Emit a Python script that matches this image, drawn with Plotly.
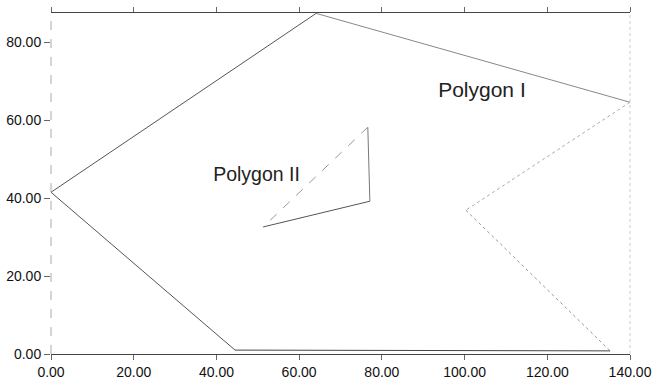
import plotly.graph_objects as go

# Polygon I vertices (closed)
poly1_x = [0.0, 64.1, 140.0, 100.3, 135.2, 44.5, 0.0]
poly1_y = [41.5, 87.4, 64.6, 36.9, 0.8, 1.0, 41.5]
# Polygon II vertices (closed)
poly2_x = [51.3, 77.1, 76.6, 51.3]
poly2_y = [32.6, 39.2, 58.2, 32.6]

labels = ["Polygon I", "Polygon II"]
label_x = [104.2, 49.7]
label_y = [67.4, 45.6]
label_sizes = [21, 19.5]

x_ticks = [0, 20, 40, 60, 80, 100, 120, 140]
y_ticks = [0, 20, 40, 60, 80]

# edge styles for polygon I (faded on the right, as in the scanned original)
p1_styles = [("#555555", "solid"), ("#888888", "solid"), ("#aaaaaa", "dot"),
             ("#999999", "dot"), ("#444444", "solid"), ("#555555", "solid")]
p2_styles = [("#555555", "solid"), ("#777777", "solid"), ("#999999", "dash")]

fig = go.Figure()
for i, (c, d) in enumerate(p1_styles):
    fig.add_trace(go.Scatter(x=poly1_x[i:i + 2], y=poly1_y[i:i + 2], mode="lines",
                             line=dict(color=c, width=1, dash=d), showlegend=False,
                             hoverinfo="skip", cliponaxis=False))
for i, (c, d) in enumerate(p2_styles):
    fig.add_trace(go.Scatter(x=poly2_x[i:i + 2], y=poly2_y[i:i + 2], mode="lines",
                             line=dict(color=c, width=1, dash=d), showlegend=False,
                             hoverinfo="skip"))

fig.add_trace(go.Scatter(x=label_x, y=label_y, mode="text", text=labels,
                         textfont=dict(family="Liberation Sans, Arial", size=label_sizes,
                                       color="#222222"),
                         showlegend=False, hoverinfo="skip"))

fig.update_layout(
    width=653, height=379,
    margin=dict(l=51, r=23, t=13, b=25),
    paper_bgcolor="white", plot_bgcolor="white",
    font=dict(family="Liberation Sans, Arial", size=14, color="#111111"),
    xaxis=dict(range=[0, 140], tickvals=x_ticks, tickformat=".2f", automargin=False,
               showgrid=False, zeroline=False, showline=True, linecolor="#444444",
               linewidth=1, mirror="ticks", ticks="outside", ticklen=5,
               tickcolor="#666666"),
    yaxis=dict(range=[0, 87.5], tickvals=y_ticks, tickformat=".2f", automargin=False,
               showgrid=False, zeroline=False, showline=False,
               ticks="outside", ticklen=6, tickcolor="#666666"),
    shapes=[
        dict(type="line", xref="paper", yref="paper", x0=0, x1=0, y0=0, y1=1,
             line=dict(color="#aaaaaa", width=1, dash="dash")),
        dict(type="line", xref="paper", yref="paper", x0=1, x1=1, y0=0, y1=1,
             line=dict(color="#cccccc", width=1, dash="dot")),
    ],
)

fig.write_html("out.html", config={"displayModeBar": False},
               post_script="document.body.style.margin='0';document.body.style.padding='0';")
